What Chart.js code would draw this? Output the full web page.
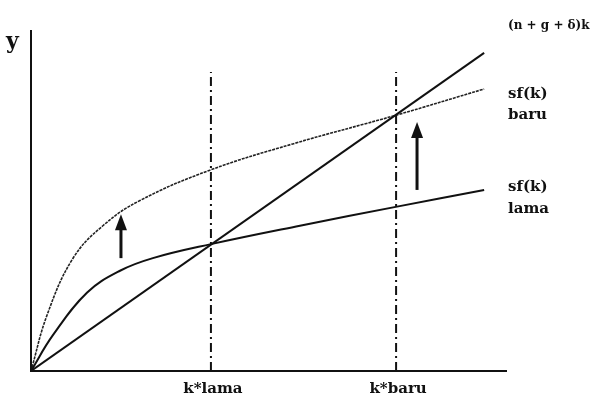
<!DOCTYPE html>
<html>
<head>
<meta charset="utf-8">
<script src="https://cdn.jsdelivr.net/npm/chart.js@4.4.0/dist/chart.umd.min.js"></script>
<style>
  html, body { margin: 0; padding: 0; background: #fff; }
  #wrap { width: 600px; height: 403px; }
</style>
</head>
<body>
<div id="wrap"><canvas id="c"></canvas></div>
<script>
// capital per worker k (x) and output y, 0..100 units
const kLama = 37.8;
const kBaru = 76.7;

// (n + g + δ)k - straight line from the origin
const breakEven = [{x: 0, y: 0}, {x: 95.2, y: 93.3}];

// sf(k) lama
const sfLama = [
  {x: 0, y: 0}, {x: 4.6, y: 10.5}, {x: 11.8, y: 23.0}, {x: 18.7, y: 29.4},
  {x: 25.6, y: 33.1}, {x: 37.8, y: 37.2}, {x: 56.5, y: 42.6},
  {x: 76.9, y: 48.2}, {x: 95.2, y: 53.1}
];

// sf(k) baru
const sfBaru = [
  {x: 0, y: 0}, {x: 3.4, y: 16.5}, {x: 8.8, y: 33.0}, {x: 15.1, y: 42.6},
  {x: 22.9, y: 50.0}, {x: 37.6, y: 58.9}, {x: 55.0, y: 66.6},
  {x: 76.9, y: 75.1}, {x: 95.2, y: 82.7}
];

// top of the dash-dot guides
const guideTop = 87.7;

// arrows: x, from y, to y
const arrows = [
  {x: 18.9, from: 33.1, to: 46.0},
  {x: 81.1, from: 53.1, to: 73.0}
];

const serif = '"DejaVu Serif", "Liberation Serif", serif';

// draws axes, arrows and text labels on top of the chart
const extras = {
  id: 'extras',
  afterDatasetsDraw(chart) {
    const ctx = chart.ctx;
    const xs = chart.scales.x, ys = chart.scales.y;
    const area = chart.chartArea;
    ctx.save();
    ctx.strokeStyle = '#111';
    ctx.lineWidth = 2;
    ctx.beginPath();
    ctx.moveTo(area.left, area.top);
    ctx.lineTo(area.left, area.bottom);
    ctx.lineTo(area.right, area.bottom);
    ctx.stroke();

    // arrows
    ctx.fillStyle = '#111';
    arrows.forEach(a => {
      const px = xs.getPixelForValue(a.x);
      const y0 = ys.getPixelForValue(a.from);
      const y1 = ys.getPixelForValue(a.to);
      ctx.lineWidth = 3;
      ctx.beginPath();
      ctx.moveTo(px, y0);
      ctx.lineTo(px, y1 + 12);
      ctx.stroke();
      ctx.beginPath();
      ctx.moveTo(px, y1);
      ctx.lineTo(px - 6, y1 + 16);
      ctx.lineTo(px + 6, y1 + 16);
      ctx.closePath();
      ctx.fill();
    });

    // text
    ctx.fillStyle = '#111';
    ctx.textBaseline = 'middle';
    ctx.font = 'bold 22px ' + serif;
    ctx.textAlign = 'left';
    ctx.fillText('y', 6, 42);

    ctx.font = 'bold 12px ' + serif;
    ctx.fillText('(n + g + δ)k', 508, 26);

    ctx.font = 'bold 15px ' + serif;
    const rx = 508;
    ctx.fillText('sf(k)', rx, ys.getPixelForValue(82.7) + 5);
    ctx.fillText('baru', rx, ys.getPixelForValue(82.7) + 26);
    ctx.fillText('sf(k)', rx, ys.getPixelForValue(53.1) - 3);
    ctx.fillText('lama', rx, ys.getPixelForValue(53.1) + 19);

    ctx.textAlign = 'center';
    ctx.fillText('k*lama', xs.getPixelForValue(kLama) + 2, area.bottom + 18);
    ctx.fillText('k*baru', xs.getPixelForValue(kBaru) + 2, area.bottom + 18);
    ctx.restore();
  }
};

new Chart(document.getElementById('c'), {
  type: 'line',
  data: {
    datasets: [
      {
        label: '(n + g + δ)k',
        data: breakEven,
        borderColor: '#111',
        borderWidth: 2,
        pointRadius: 0
      },
      {
        label: 'sf(k) lama',
        data: sfLama,
        borderColor: '#111',
        borderWidth: 2,
        pointRadius: 0,
        tension: 0.4
      },
      {
        label: 'sf(k) baru',
        data: sfBaru,
        borderColor: '#222',
        borderWidth: 1.6,
        borderDash: [3, 1],
        pointRadius: 0,
        tension: 0.4
      },
      {
        label: 'k*lama',
        data: [{x: kLama, y: 0}, {x: kLama, y: guideTop}],
        borderColor: '#111',
        borderWidth: 2,
        borderDash: [9, 4, 2, 4],
        pointRadius: 0
      },
      {
        label: 'k*baru',
        data: [{x: kBaru, y: 0}, {x: kBaru, y: guideTop}],
        borderColor: '#111',
        borderWidth: 2,
        borderDash: [9, 4, 2, 4],
        pointRadius: 0
      }
    ]
  },
  options: {
    responsive: true,
    maintainAspectRatio: false,
    animation: false,
    layout: { padding: { left: 31, right: 93, top: 30, bottom: 32 } },
    plugins: {
      legend: { display: false },
      tooltip: { enabled: false }
    },
    scales: {
      x: { type: 'linear', min: 0, max: 100, display: false },
      y: { type: 'linear', min: 0, max: 100, display: false }
    }
  },
  plugins: [extras]
});
</script>
</body>
</html>
